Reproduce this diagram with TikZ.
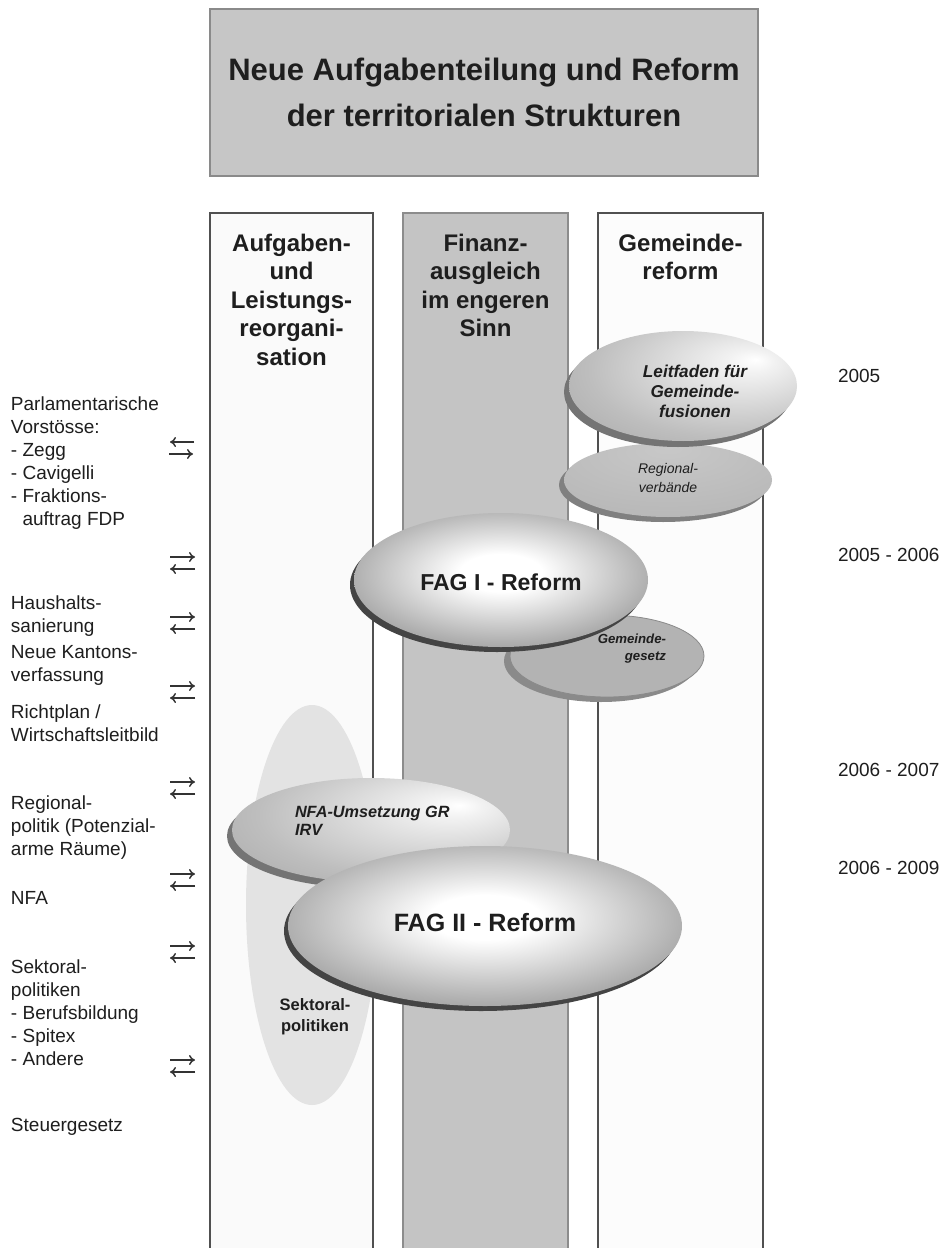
\documentclass[tikz,border=0pt]{standalone}
\usepackage{fontspec}
\setmainfont{Liberation Sans}
\usetikzlibrary{shapes.geometric,arrows.meta}
\definecolor{txt}{HTML}{1E1E1E}
\definecolor{titlefill}{HTML}{C6C6C6}
\definecolor{titleborder}{HTML}{8A8A8A}
\definecolor{colLfill}{HTML}{FAFAFA}
\definecolor{colMfill}{HTML}{C4C4C4}
\definecolor{colRfill}{HTML}{FCFCFC}
\definecolor{colborder}{HTML}{505050}
\definecolor{colMborder}{HTML}{8C8C8C}
\definecolor{sektfill}{HTML}{E3E3E3}
\definecolor{fagedge}{HTML}{4A4A4A}
\definecolor{fagdark}{HTML}{6C6C6C}
\definecolor{fagmid}{HTML}{B0B0B0}
\definecolor{fagrim}{HTML}{444444}
\definecolor{leitedge}{HTML}{979797}
\definecolor{leitmid}{HTML}{BEBEBE}
\definecolor{leitlight}{HTML}{F2F2F2}
\definecolor{leitrim}{HTML}{747474}
\definecolor{regfill}{HTML}{B4B4B4}
\definecolor{regtop}{HTML}{C8C8C8}
\definecolor{regrim}{HTML}{808080}
\definecolor{gemfill}{HTML}{B3B3B3}
\definecolor{gemrim}{HTML}{8A8A8A}
\definecolor{arrcol}{HTML}{333333}
\pgfdeclareradialshading{fagshade}{\pgfpoint{0bp}{3bp}}{color(0bp)=(white); color(7bp)=(white); color(25bp)=(fagmid); color(42bp)=(fagdark); color(50bp)=(fagedge); color(72bp)=(fagedge)}
\pgfdeclareradialshading{leitshade}{\pgfpoint{16bp}{12bp}}{color(0bp)=(white); color(5bp)=(leitlight); color(30bp)=(leitmid); color(56bp)=(leitedge); color(75bp)=(leitedge)}
\pgfdeclareradialshading{regshade}{\pgfpoint{0bp}{22bp}}{color(0bp)=(regtop); color(45bp)=(regfill); color(72bp)=(regfill)}
\newcommand\setfs[2]{\fontsize{#1}{#2}\selectfont}
\begin{document}
\begin{tikzpicture}[x=0.75pt,y=-0.75pt,
  every node/.style={inner sep=0pt, outer sep=0pt, text=txt},
  ell/.style={ellipse, inner sep=0pt, outer sep=0pt},
  colbox/.style={rectangle, anchor=north west, draw=colborder, line width=1.5pt, minimum height=800pt},
  arr/.style={-{To[length=4.5pt,width=7.5pt]}, line width=1.1pt, draw=arrcol},
  lefttxt/.style={anchor=north west, align=left, font=\setfs{14.25}{17.25}},
  yeartxt/.style={anchor=west, font=\setfs{14.25}{17.25}},
  headtxt/.style={anchor=north, align=center, font=\setfs{18}{21.4}\bfseries}]
\path[use as bounding box] (0,0) rectangle (946,1248);
\clip (0,0) rectangle (946,1248);
\fill[white] (0,0) rectangle (946,1248);

% title
\node[rectangle, fill=titlefill, draw=titleborder, line width=1pt,
      minimum width=411pt, minimum height=125.25pt, align=center,
      font=\setfs{23.25}{34.5}\bfseries] (title) at (484,92.5)
  {Neue Aufgabenteilung und Reform\\der territorialen Strukturen};

% columns
\node[colbox, fill=colLfill, minimum width=122.25pt] (colA) at (210,213) {};
\node[colbox, fill=colMfill, draw=colMborder, minimum width=123.75pt] (colB) at (403,213) {};
\node[colbox, fill=colRfill, minimum width=123.75pt] (colC) at (598,213) {};

\node[headtxt] (headA) at (291.5,234) {Aufgaben-\\und\\Leistungs-\\reorgani-\\sation};
\node[headtxt] (headB) at (485.5,234) {Finanz-\\ausgleich\\im engeren\\Sinn};
\node[headtxt] (headC) at (680.5,234) {Gemeinde-\\reform};

% Sektoralpolitiken
\node[ell, fill=sektfill, minimum width=99pt, minimum height=300pt] (sekt) at (312,905) {};
\node[align=center, font=\setfs{12.4}{15.75}\bfseries] (sekttxt) at (315,1017) {Sektoral-\\politiken};

% NFA-Umsetzung
\node[ell, fill=leitrim, minimum width=208.5pt, minimum height=78pt] (nfarim) at (366,836) {};
\node[ell, shade, shading=leitshade, minimum width=208.5pt, minimum height=78pt] (nfa) at (371,830) {};
\node[anchor=north west, align=left, font=\setfs{12.2}{13.5}\bfseries\itshape] (nfatxt) at (295,806) {NFA-Umsetzung GR\\IRV};

% FAG II
\node[ell, fill=fagrim, minimum width=295.5pt, minimum height=120pt] (fag2rim) at (481,931) {};
\node[ell, shade, shading=fagshade, minimum width=295.5pt, minimum height=120pt] (fag2) at (485,926) {};
\node[font=\setfs{18.8}{22}\bfseries] (fag2txt) at (485,923) {FAG II - Reform};

% Gemeindegesetz
\node[ell, fill=gemrim, minimum width=145.5pt, minimum height=61.5pt] (gemrimn) at (601,661) {};
\node[ell, fill=gemfill, draw=gemrim, line width=0.6pt, minimum width=145.5pt, minimum height=61.5pt] (gem) at (607,656) {};
\node[anchor=east, align=right, font=\setfs{9.9}{12.75}\bfseries\itshape] (gemtxt) at (666,649) {Gemeinde-\\gesetz};

% FAG I
\node[ell, fill=fagrim, minimum width=220.5pt, minimum height=100.5pt] (fag1rim) at (497,585) {};
\node[ell, shade, shading=fagshade, minimum width=220.5pt, minimum height=100.5pt] (fag1) at (501,580) {};
\node[font=\setfs{17.3}{20}\bfseries] (fag1txt) at (501,582) {FAG I - Reform};

% Regionalverbaende
\node[ell, fill=regrim, minimum width=156pt, minimum height=55.5pt] (regrimn) at (663,485) {};
\node[ell, shade, shading=regshade, minimum width=156pt, minimum height=55.5pt] (reg) at (668,480) {};
\node[align=center, font=\setfs{10.5}{14}\itshape] (regtxt) at (668,478) {Regional-\\verbände};

% Leitfaden
\node[ell, fill=leitrim, minimum width=171pt, minimum height=82.5pt] (leitrimn) at (678,392) {};
\node[ell, shade, shading=leitshade, minimum width=171pt, minimum height=82.5pt] (leit) at (683,386) {};
\node[align=center, font=\setfs{12.9}{15}\bfseries\itshape] (leittxt) at (695,391) {Leitfaden für\\Gemeinde-\\fusionen};

% left texts
\node[lefttxt] (parl) at (11,397) {Parlamentarische\\Vorstösse:\\- Zegg\\- Cavigelli\\- Fraktions-\\\hspace*{0.61em}auftrag FDP};
\node[lefttxt] (haus) at (11,596) {Haushalts-\\sanierung};
\node[lefttxt] (kant) at (11,645) {Neue Kantons-\\verfassung};
\node[lefttxt] (richt) at (11,705) {Richtplan /\\Wirtschaftsleitbild};
\node[lefttxt] (regpol) at (11,796) {Regional-\\politik (Potenzial-\\arme Räume)};
\node[lefttxt] (nfaleft) at (11,891) {NFA};
\node[lefttxt] (sektleft) at (11,960) {Sektoral-\\politiken\\- Berufsbildung\\- Spitex\\- Andere};
\node[lefttxt] (steuer) at (11,1118) {Steuergesetz};

% years
\node[yeartxt] (y1) at (838,376) {2005};
\node[yeartxt] (y2) at (838,555) {2005 - 2006};
\node[yeartxt] (y3) at (838,770) {2006 - 2007};
\node[yeartxt] (y4) at (838,868) {2006 - 2009};

% arrows
\coordinate (p1a) at (170,442); \coordinate (p1b) at (194,442);
\coordinate (p2a) at (169,454); \coordinate (p2b) at (193,454);
\draw[arr] (p1b) -- (p1a);
\draw[arr] (p2a) -- (p2b);
\foreach \i/\yy in {2/563,3/623,4/692,5/788,6/880,7/952,8/1066}{
  \coordinate (r\i a) at (170,\yy-6); \coordinate (r\i b) at (195,\yy-6);
  \coordinate (l\i a) at (170,\yy+6); \coordinate (l\i b) at (195,\yy+6);
  \draw[arr] (r\i a) -- (r\i b);
  \draw[arr] (l\i b) -- (l\i a);
}
\end{tikzpicture}
\end{document}
